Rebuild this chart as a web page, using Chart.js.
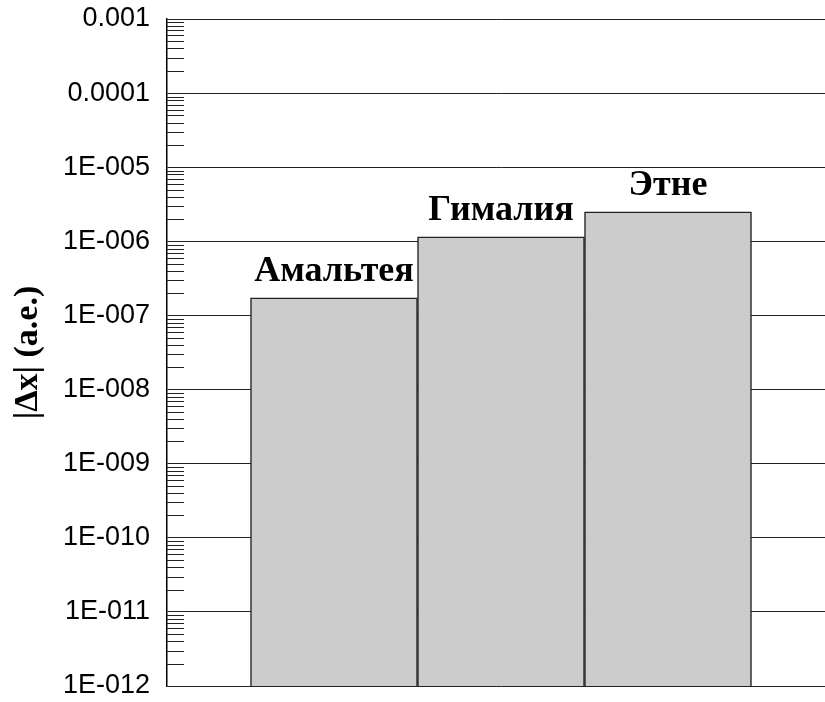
<!DOCTYPE html>
<html>
<head>
<meta charset="utf-8">
<script src="https://cdn.jsdelivr.net/npm/chart.js@4"></script>
<style>
  html, body { margin: 0; padding: 0; background: #ffffff; overflow: hidden; }
  canvas { display: block; }
</style>
</head>
<body>
<canvas id="chart" width="835" height="702"></canvas>
<script>
// Satellites and their |Δx| values (a.e.)
const categories = ['Амальтея', 'Гималия', 'Этне'];
const positions = [1, 2, 3];
const deltaX = [1.73e-7, 1.15e-6, 2.51e-6];

// Decade ticks on the logarithmic axis and their printed labels
const decadeValues = [1e-12, 1e-11, 1e-10, 1e-9, 1e-8, 1e-7, 1e-6, 1e-5, 1e-4, 1e-3];
const tickLabels = ['1E-012', '1E-011', '1E-010', '1E-009', '1E-008',
                    '1E-007', '1E-006', '1E-005', '0.0001', '0.001'];
const minorMultipliers = [2, 3, 4, 5, 6, 7, 8, 9];

const serifBold = { family: "'Liberation Serif', 'Times New Roman', serif", weight: 'bold' };

// Short inner minor ticks along the left axis
const minorTicks = {
  id: 'minorTicks',
  afterDatasetsDraw(chart) {
    const y = chart.scales.y;
    const left = chart.chartArea.left;
    const ctx = chart.ctx;
    ctx.save();
    ctx.strokeStyle = '#222222';
    ctx.lineWidth = 1;
    ctx.beginPath();
    for (let d = 0; d < decadeValues.length - 1; d++) {
      minorMultipliers.forEach(m => {
        const py = Math.round(y.getPixelForValue(decadeValues[d] * m)) + 0.5;
        ctx.moveTo(left, py);
        ctx.lineTo(left + 17, py);
      });
    }
    ctx.stroke();
    ctx.restore();
  }
};

// Satellite names above their bars
const barNames = {
  id: 'barNames',
  afterDatasetsDraw(chart) {
    const meta = chart.getDatasetMeta(0);
    const ctx = chart.ctx;
    ctx.save();
    ctx.font = "bold 36px 'Liberation Serif', 'Times New Roman', serif";
    ctx.fillStyle = '#000000';
    ctx.textAlign = 'center';
    ctx.textBaseline = 'alphabetic';
    meta.data.forEach((bar, i) => {
      ctx.fillText(categories[i], bar.x, bar.y - 17);
    });
    ctx.restore();
  }
};

new Chart(document.getElementById('chart'), {
  type: 'bar',
  data: {
    datasets: [{
      data: positions.map((p, i) => ({ x: p, y: deltaX[i] })),
      backgroundColor: '#cccccc',
      borderColor: '#222222',
      borderWidth: 1.5,
      barPercentage: 1,
      categoryPercentage: 1
    }]
  },
  options: {
    responsive: false,
    animation: false,
    layout: { padding: { top: 19, bottom: 16, left: 0, right: 0 } },
    plugins: { legend: { display: false }, tooltip: { enabled: false } },
    scales: {
      x: {
        type: 'linear',
        min: 0,
        max: 4,
        offset: false,
        display: false,
        ticks: { stepSize: 1 }
      },
      y: {
        type: 'logarithmic',
        min: 1e-12,
        max: 1e-3,
        afterBuildTicks(scale) {
          scale.ticks = decadeValues.map(v => ({ value: v, major: true }));
        },
        afterFit(scale) {
          scale.width = 167;
          scale.paddingTop = 0;
          scale.paddingBottom = 0;
        },
        border: { display: true, color: '#000000', width: 1.5 },
        grid: { color: '#222222', lineWidth: 1, drawTicks: false },
        ticks: {
          padding: 17,
          color: '#000000',
          font: { family: "'Liberation Sans', Arial, sans-serif", size: 27 },
          callback: (value, index) => tickLabels[index]
        },
        title: {
          display: true,
          text: '|Δx| (a.e.)',
          color: '#000000',
          padding: { top: 8, bottom: 0 },
          font: Object.assign({ size: 34 }, serifBold)
        }
      }
    }
  },
  plugins: [minorTicks, barNames]
});
</script>
</body>
</html>
